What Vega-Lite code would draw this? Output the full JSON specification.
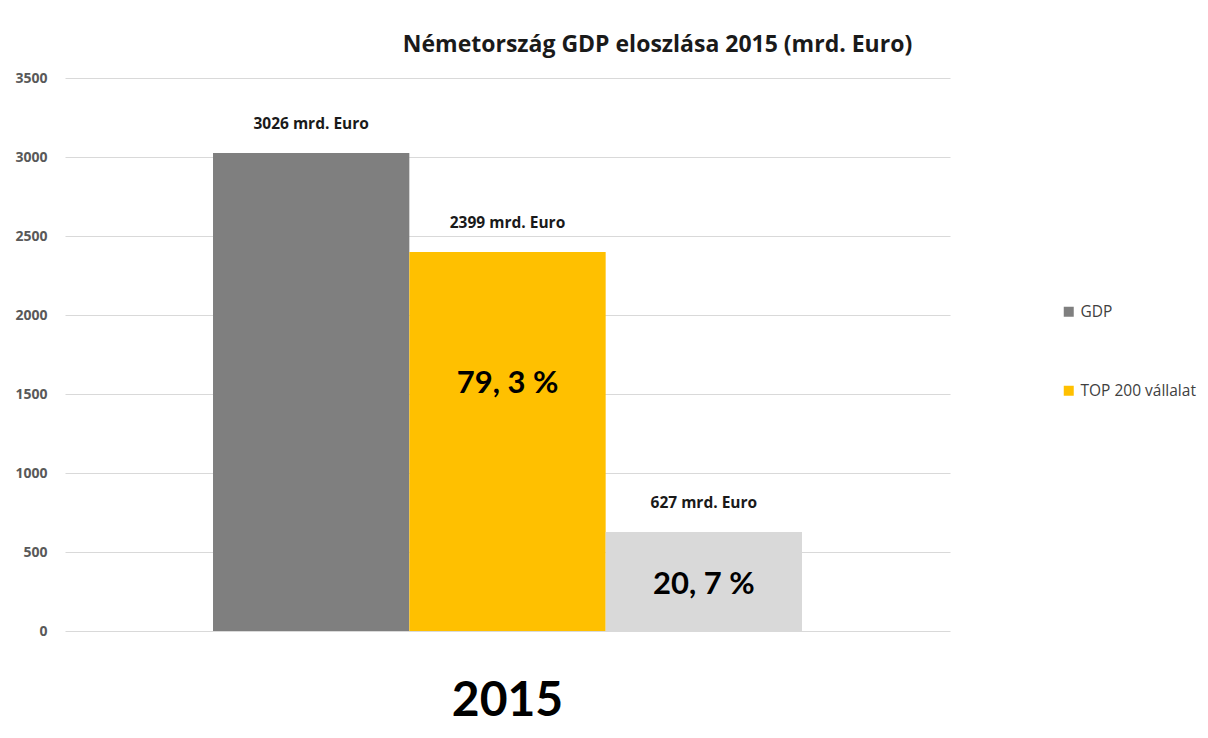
{
  "$schema": "https://vega.github.io/schema/vega-lite/v6.json",
  "autosize": {"type": "none"},
  "width": 885,
  "height": 553,
  "padding": {"left": 65, "top": 78, "right": 258, "bottom": 107},
  "background": "white",
  "config": {
    "font": "Open Sans",
    "view": {"stroke": null}
  },
  "title": {
    "text": "Németország GDP eloszlása 2015 (mrd. Euro)",
    "font": "Open Sans",
    "fontSize": 23,
    "fontWeight": "bold",
    "color": "#1a1a1a",
    "anchor": "middle",
    "frame": "group",
    "dx": 150,
    "offset": 14
  },
  "data": {
    "values": [
      {"year": "2015", "series": "GDP", "value": 3026, "lbl": "3026 mrd. Euro", "pct": null, "pctAt": null},
      {"year": "2015", "series": "TOP 200 vállalat", "value": 2399, "lbl": "2399 mrd. Euro", "pct": "79, 3 %", "pctAt": 1565},
      {"year": "2015", "series": "Egyéb", "value": 627, "lbl": "627 mrd. Euro", "pct": "20, 7 %", "pctAt": 291}
    ]
  },
  "encoding": {
    "x": {
      "field": "year",
      "type": "nominal",
      "scale": {"paddingInner": 0, "paddingOuter": 0.2513},
      "axis": {
        "title": null,
        "labelAngle": 0,
        "labelFontSize": 48,
        "labelFontWeight": "bold",
        "labelColor": "#000000",
        "labelFont": "Lato",
        "labelPadding": 46,
        "domain": false,
        "ticks": false,
        "grid": false
      }
    },
    "xOffset": {
      "field": "series",
      "type": "nominal",
      "sort": ["GDP", "TOP 200 vállalat", "Egyéb"],
      "scale": {"paddingInner": 0, "paddingOuter": 0}
    }
  },
  "layer": [
    {
      "mark": {"type": "bar"},
      "encoding": {
        "y": {
          "field": "value",
          "type": "quantitative",
          "scale": {"domain": [0, 3500], "nice": false},
          "axis": {
            "title": null,
            "values": [0, 500, 1000, 1500, 2000, 2500, 3000, 3500],
            "format": "d",
            "domain": false,
            "ticks": false,
            "gridColor": "#d9d9d9",
            "gridWidth": 1,
            "labelFontSize": 14,
            "labelColor": "#595959",
            "labelFontWeight": "bold",
            "labelPadding": 18
          }
        },
        "color": {
          "field": "series",
          "type": "nominal",
          "scale": {
            "domain": ["GDP", "TOP 200 vállalat", "Egyéb"],
            "range": ["#7f7f7f", "#ffc000", "#d9d9d9"]
          },
          "legend": {
            "title": null,
            "values": ["GDP", "TOP 200 vállalat"],
            "orient": "none",
            "legendX": 996,
            "legendY": 226,
            "padding": 0,
            "symbolType": "square",
            "symbolSize": 100,
            "symbolStrokeWidth": 0,
            "labelFontSize": 15.5,
            "labelColor": "#404040",
            "labelOffset": 4,
            "labelLimit": 200,
            "rowPadding": 62
          }
        }
      }
    },
    {
      "mark": {"type": "text", "dy": -29, "fontSize": 15.5, "fontWeight": "bold", "color": "#1a1a1a"},
      "encoding": {
        "y": {"field": "value", "type": "quantitative"},
        "text": {"field": "lbl"}
      }
    },
    {
      "transform": [{"filter": "datum.pct != null"}],
      "mark": {"type": "text", "font": "Lato", "fontSize": 31, "fontWeight": "bold", "color": "#000000"},
      "encoding": {
        "y": {"field": "pctAt", "type": "quantitative"},
        "text": {"field": "pct"}
      }
    }
  ]
}
